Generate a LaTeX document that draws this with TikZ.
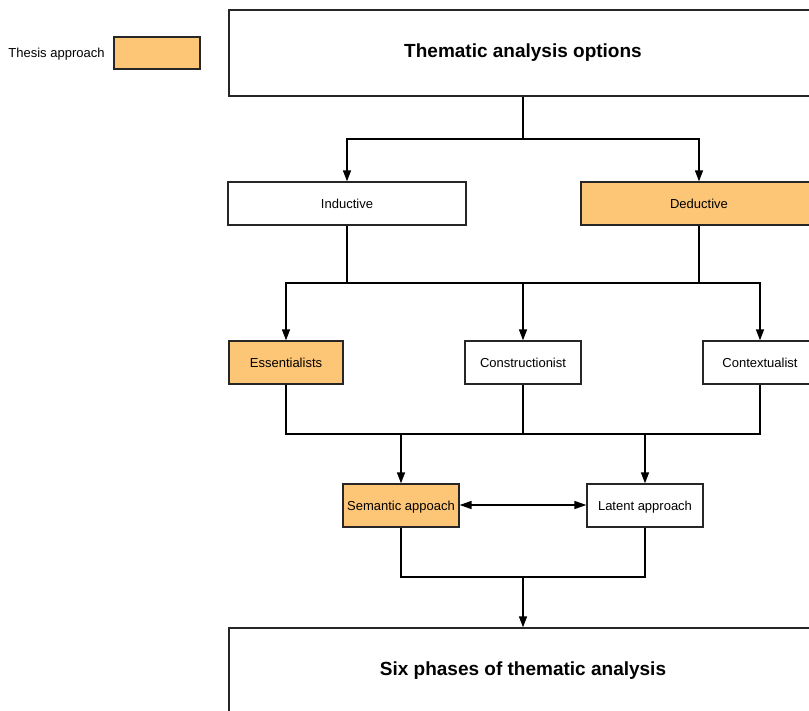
\documentclass[tikz,border=0pt]{standalone}
\usepackage{fontspec}
\setmainfont{Liberation Sans}
\usetikzlibrary{arrows.meta}
\definecolor{thesis}{RGB}{253,197,118}
\begin{document}
\begin{tikzpicture}[x=1pt,y=-1pt,
  box/.style={draw=black!85,line width=1.3pt,rectangle,inner sep=0pt,text height=10.5pt,text depth=0.5pt,font=\fontsize{13}{15}\selectfont},
  bigbox/.style={box},
  hl/.style={fill=thesis},
  conn/.style={line width=1.5pt,black},
  arr/.style={conn,-{Triangle[length=11pt,width=8pt]}},
  arrs/.style={conn,{Triangle[length=12pt,width=8pt]}-{Triangle[length=12pt,width=8pt]}}]
\useasboundingbox (0,0) rectangle (809,711);
\clip (0,0) rectangle (809,711);
\fill[white] (0,0) rectangle (809,711);
% legend
\node[font=\fontsize{13}{15}\selectfont] (legtext) at (56.5,54) {Thesis approach};
\node[box,hl,minimum width=86pt,minimum height=32pt] (legbox) at (157,53) {};
% nodes
\node[bigbox,minimum width=588pt,minimum height=86pt] (them) at (523,53) {};
\node[font=\fontsize{19}{22}\selectfont\bfseries] (themt) at (523,52.5) {Thematic analysis options};
\node[box,minimum width=238pt,minimum height=43pt] (ind) at (347,203.5) {Inductive};
\node[box,hl,minimum width=236pt,minimum height=43pt] (ded) at (699,203.5) {Deductive};
\node[box,hl,minimum width=114pt,minimum height=43pt] (ess) at (286,362.5) {Essentialists};
\node[box,minimum width=116pt,minimum height=43pt] (con) at (523,362.5) {Constructionist};
\node[box,minimum width=114pt,minimum height=43pt] (ctx) at (760,362.5) {Contextualist};
\node[box,hl,minimum width=116pt,minimum height=43pt] (sem) at (401,505.5) {Semantic appoach};
\node[box,minimum width=116pt,minimum height=43pt] (lat) at (645,505.5) {Latent approach};
\node[bigbox,minimum width=588pt,minimum height=86pt] (six) at (523,671) {};
\node[font=\fontsize{19}{22}\selectfont\bfseries] (sixt) at (523,670.5) {Six phases of thematic analysis};
% connectors row 1
\draw[conn] (them.south) -- (them.south|-0,139);
\draw[arr] (them.south|-0,139) -| (ind.north);
\draw[arr] (them.south|-0,139) -| (ded.north);
% row 2 -> 3
\draw[arr] (ind.south) -- (ind.south|-0,283) -| (ess.north);
\draw[arr] (ded.south) -- (ded.south|-0,283) -| (ctx.north);
\draw[conn] (ind.south|-0,283) -- (ded.south|-0,283);
\draw[arr] (con.north|-0,283) -- (con.north);
% row 3 -> 4
\draw[conn] (ess.south) -- (ess.south|-0,434) -- (ctx.south|-0,434) -- (ctx.south);
\draw[conn] (con.south) -- (con.south|-0,434);
\draw[arr] (sem.north|-0,434) -- (sem.north);
\draw[arr] (lat.north|-0,434) -- (lat.north);
\draw[arrs] ([yshift=0.5pt]sem.east) -- ([yshift=0.5pt]lat.west);
% row 4 -> 5
\draw[conn] (sem.south) -- (sem.south|-0,577) -- (lat.south|-0,577) -- (lat.south);
\draw[arr] (six.north|-0,577) -- (six.north);
\end{tikzpicture}
\end{document}
